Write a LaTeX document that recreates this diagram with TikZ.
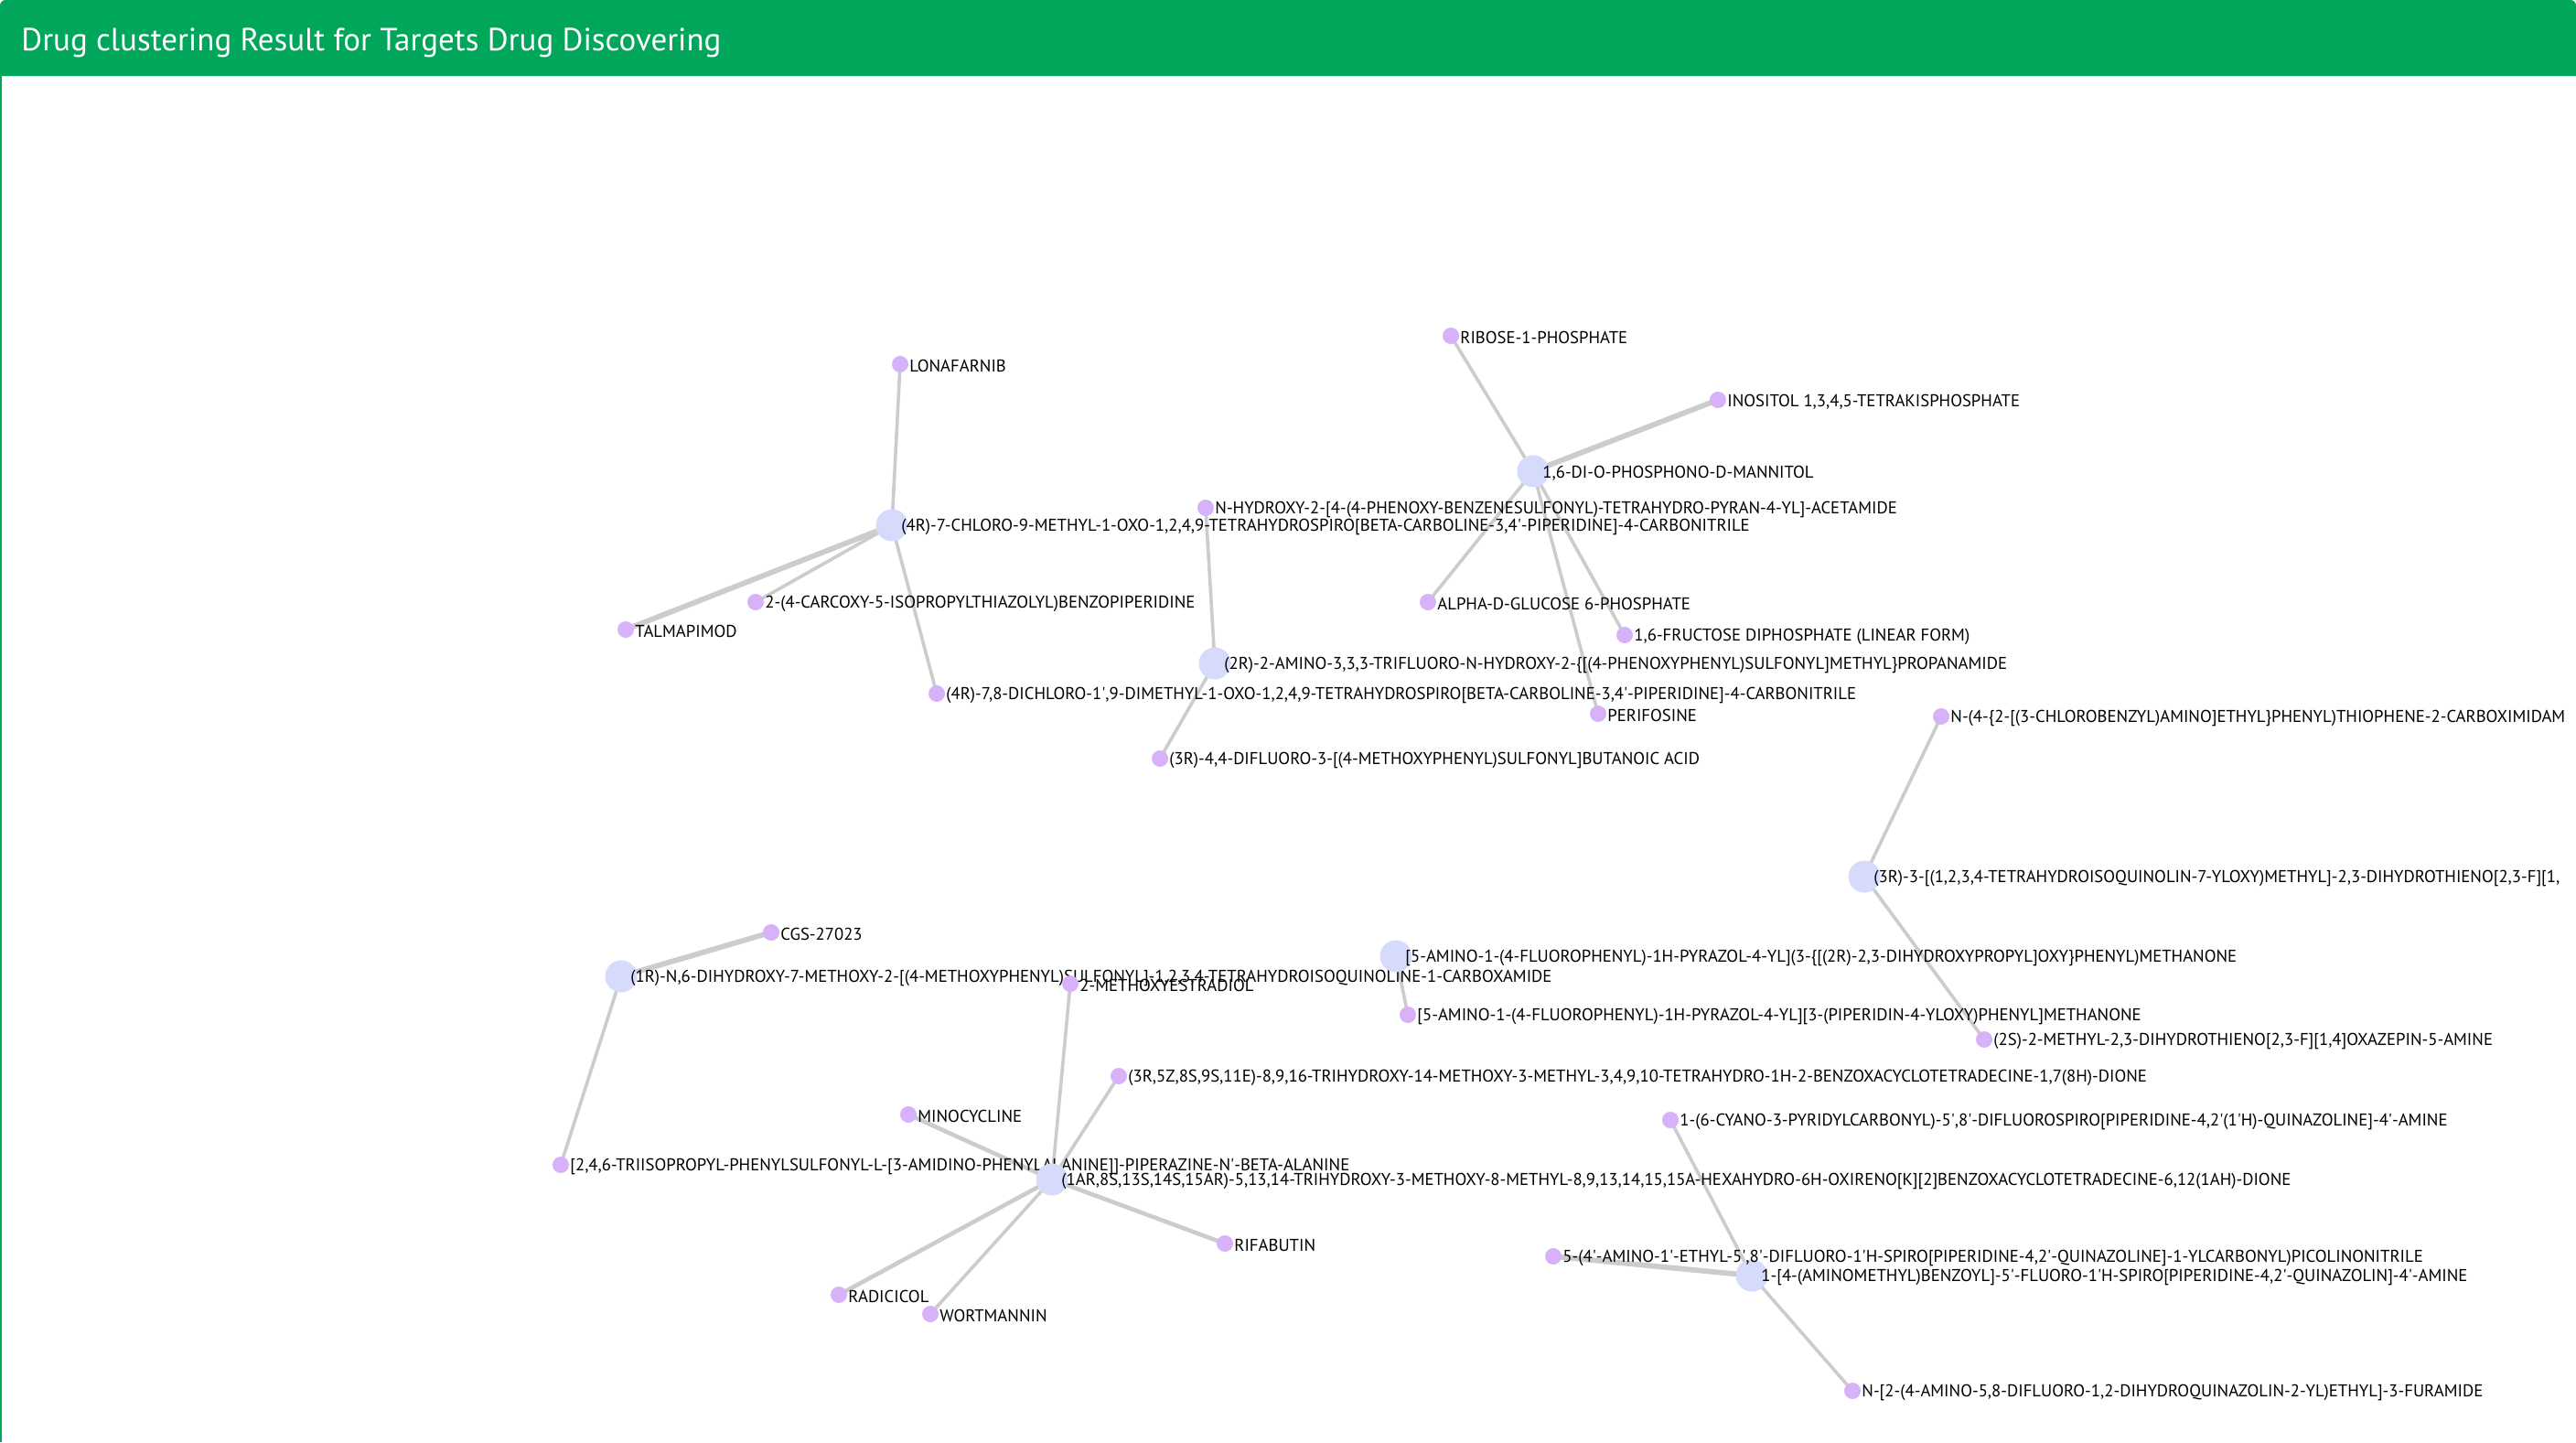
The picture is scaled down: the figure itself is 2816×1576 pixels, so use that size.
\documentclass[tikz,border=0pt]{standalone}
\usepackage{fontspec}
\setmainfont{PT Sans}
\usetikzlibrary{backgrounds}
\definecolor{barc}{RGB}{0,166,90}
\definecolor{leafc}{RGB}{215,178,248}
\definecolor{hubc}{RGB}{214,219,252}
\definecolor{edgec}{RGB}{204,204,204}
\newcommand\ap{\textquotesingle}
\newcommand\dn[4]{%
  \node[#1] (#2) at (#3) {};
  \node[lab] (#2l) at ([xshift=5pt,yshift=-1pt]#2.center) {#4};}
\tikzset{
  leaf/.style={circle, fill=leafc, draw=none, minimum size=9pt, inner sep=0pt},
  hub/.style={circle, fill=hubc, draw=none, minimum size=17.5pt, inner sep=0pt},
  lab/.style={anchor=west, inner sep=0pt, font=\fontsize{9.35}{10}\selectfont, text=black},
  ed/.style={draw=edgec, line width=1.8pt},
  edm/.style={draw=edgec, line width=2.3pt},
  edt/.style={draw=edgec, line width=2.9pt},
}
\begin{document}
\begin{tikzpicture}[x=0.5pt, y=-0.5pt]
\useasboundingbox (0,0) rectangle (2816,1576);
\begin{pgfonlayer}{background}
\fill[white] (0,0) rectangle (2816,1576);
\end{pgfonlayer}
\clip (0,0) rectangle (2816,1576);
% panel
\fill[barc] (0,83) [rounded corners=3pt] -- (0,0) -- (2816,0) [sharp corners] -- (2816,83) -- cycle;
\fill[barc] (0,83) rectangle (2,1576);
\node[anchor=base west, inner sep=0pt, text=white, font=\fontsize{17.5}{21}\selectfont] (title) at (23,55) {Drug clustering Result for Targets Drug Discovering};
% cluster A
\dn{hub}{hA}{975,574}{(4R)-7-CHLORO-9-METHYL-1-OXO-1,2,4,9-TETRAHYDROSPIRO[BETA-CARBOLINE-3,4\ap-PIPERIDINE]-4-CARBONITRILE}
\dn{leaf}{a1}{984,398}{LONAFARNIB}
\dn{leaf}{a2}{826,658}{2-(4-CARCOXY-5-ISOPROPYLTHIAZOLYL)BENZOPIPERIDINE}
\dn{leaf}{a3}{684,688}{TALMAPIMOD}
\dn{leaf}{a4}{1024,758}{(4R)-7,8-DICHLORO-1\ap,9-DIMETHYL-1-OXO-1,2,4,9-TETRAHYDROSPIRO[BETA-CARBOLINE-3,4\ap-PIPERIDINE]-4-CARBONITRILE}
% cluster B
\dn{hub}{hB}{1328,725}{(2R)-2-AMINO-3,3,3-TRIFLUORO-N-HYDROXY-2-\{[(4-PHENOXYPHENYL)SULFONYL]METHYL\}PROPANAMIDE}
\dn{leaf}{b1}{1318,555}{N-HYDROXY-2-[4-(4-PHENOXY-BENZENESULFONYL)-TETRAHYDRO-PYRAN-4-YL]-ACETAMIDE}
\dn{leaf}{b2}{1268,829}{(3R)-4,4-DIFLUORO-3-[(4-METHOXYPHENYL)SULFONYL]BUTANOIC ACID}
% cluster C
\dn{hub}{hC}{1676,515}{1,6-DI-O-PHOSPHONO-D-MANNITOL}
\dn{leaf}{c1}{1586,367}{RIBOSE-1-PHOSPHATE}
\dn{leaf}{c2}{1878,437}{INOSITOL 1,3,4,5-TETRAKISPHOSPHATE}
\dn{leaf}{c3}{1561,658}{ALPHA-D-GLUCOSE 6-PHOSPHATE}
\dn{leaf}{c4}{1776,694}{1,6-FRUCTOSE DIPHOSPHATE (LINEAR FORM)}
\dn{leaf}{c5}{1747,780}{PERIFOSINE}
% cluster D
\dn{hub}{hD}{2038,958}{(3R)-3-[(1,2,3,4-TETRAHYDROISOQUINOLIN-7-YLOXY)METHYL]-2,3-DIHYDROTHIENO[2,3-F][1,}
\dn{leaf}{d1}{2122,783}{N-(4-\{2-[(3-CHLOROBENZYL)AMINO]ETHYL\}PHENYL)THIOPHENE-2-CARBOXIMIDAM}
\dn{leaf}{d2}{2169,1136}{(2S)-2-METHYL-2,3-DIHYDROTHIENO[2,3-F][1,4]OXAZEPIN-5-AMINE}
% cluster E
\dn{hub}{hE}{679,1067}{(1R)-N,6-DIHYDROXY-7-METHOXY-2-[(4-METHOXYPHENYL)SULFONYL]-1,2,3,4-TETRAHYDROISOQUINOLINE-1-CARBOXAMIDE}
\dn{leaf}{e1}{843,1019}{CGS-27023}
\dn{leaf}{e2}{613,1273}{[2,4,6-TRIISOPROPYL-PHENYLSULFONYL-L-[3-AMIDINO-PHENYLALANINE]]-PIPERAZINE-N\ap-BETA-ALANINE}
% cluster F
\dn{hub}{hF}{1150,1289}{(1AR,8S,13S,14S,15AR)-5,13,14-TRIHYDROXY-3-METHOXY-8-METHYL-8,9,13,14,15,15A-HEXAHYDRO-6H-OXIRENO[K][2]BENZOXACYCLOTETRADECINE-6,12(1AH)-DIONE}
\dn{leaf}{f1}{1170,1075}{2-METHOXYESTRADIOL}
\dn{leaf}{f2}{1223,1176}{(3R,5Z,8S,9S,11E)-8,9,16-TRIHYDROXY-14-METHOXY-3-METHYL-3,4,9,10-TETRAHYDRO-1H-2-BENZOXACYCLOTETRADECINE-1,7(8H)-DIONE}
\dn{leaf}{f3}{993,1218}{MINOCYCLINE}
\dn{leaf}{f4}{1339,1359}{RIFABUTIN}
\dn{leaf}{f5}{917,1415}{RADICICOL}
\dn{leaf}{f6}{1017,1436}{WORTMANNIN}
% cluster G
\dn{hub}{hG}{1526,1045}{[5-AMINO-1-(4-FLUOROPHENYL)-1H-PYRAZOL-4-YL](3-\{[(2R)-2,3-DIHYDROXYPROPYL]OXY\}PHENYL)METHANONE}
\dn{leaf}{g1}{1539,1109}{[5-AMINO-1-(4-FLUOROPHENYL)-1H-PYRAZOL-4-YL][3-(PIPERIDIN-4-YLOXY)PHENYL]METHANONE}
% cluster H
\dn{hub}{hH}{1915,1394}{1-[4-(AMINOMETHYL)BENZOYL]-5\ap-FLUORO-1\ap H-SPIRO[PIPERIDINE-4,2\ap-QUINAZOLIN]-4\ap-AMINE}
\dn{leaf}{h1}{1826,1224}{1-(6-CYANO-3-PYRIDYLCARBONYL)-5\ap,8\ap-DIFLUOROSPIRO[PIPERIDINE-4,2\ap(1\ap H)-QUINAZOLINE]-4\ap-AMINE}
\dn{leaf}{h2}{1698,1373}{5-(4\ap-AMINO-1\ap-ETHYL-5\ap,8\ap-DIFLUORO-1\ap H-SPIRO[PIPERIDINE-4,2\ap-QUINAZOLINE]-1-YLCARBONYL)PICOLINONITRILE}
\dn{leaf}{h3}{2025,1520}{N-[2-(4-AMINO-5,8-DIFLUORO-1,2-DIHYDROQUINAZOLIN-2-YL)ETHYL]-3-FURAMIDE}
% edges
\begin{pgfonlayer}{background}
\draw[ed] (hA.center) -- (a1.center);
\draw[ed] (hA.center) -- (a2.center);
\draw[edt] (hA.center) -- (a3.center);
\draw[ed] (hA.center) -- (a4.center);
\draw[ed] (hB.center) -- (b1.center);
\draw[ed] (hB.center) -- (b2.center);
\draw[ed] (hC.center) -- (c1.center);
\draw[edt] (hC.center) -- (c2.center);
\draw[ed] (hC.center) -- (c3.center);
\draw[ed] (hC.center) -- (c4.center);
\draw[ed] (hC.center) -- (c5.center);
\draw[ed] (hD.center) -- (d1.center);
\draw[ed] (hD.center) -- (d2.center);
\draw[edt] (hE.center) -- (e1.center);
\draw[ed] (hE.center) -- (e2.center);
\draw[ed] (hF.center) -- (f1.center);
\draw[ed] (hF.center) -- (f2.center);
\draw[edm] (hF.center) -- (f3.center);
\draw[edm] (hF.center) -- (f4.center);
\draw[edm] (hF.center) -- (f5.center);
\draw[ed] (hF.center) -- (f6.center);
\draw[ed] (hG.center) -- (g1.center);
\draw[ed] (hH.center) -- (h1.center);
\draw[edt] (hH.center) -- (h2.center);
\draw[ed] (hH.center) -- (h3.center);
\end{pgfonlayer}
\end{tikzpicture}
\end{document}
